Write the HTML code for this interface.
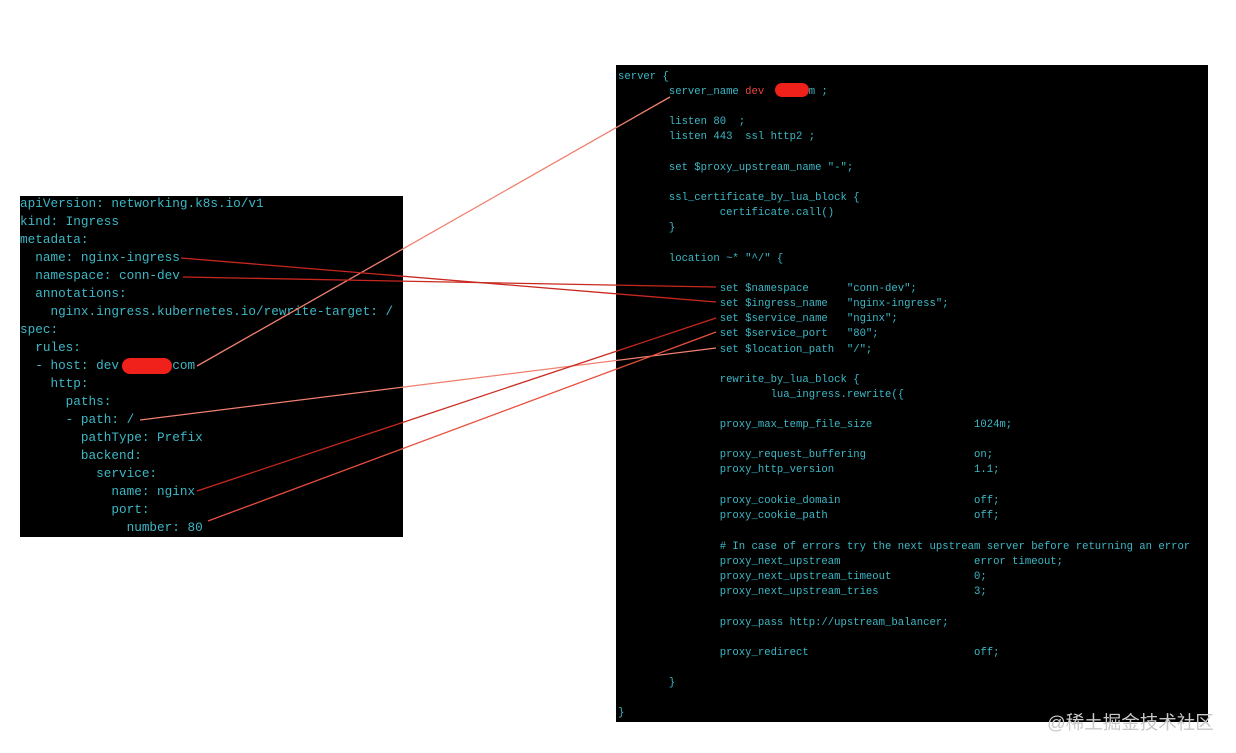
<!DOCTYPE html>
<html><head><meta charset="utf-8"><style>
body{margin:0;width:1236px;height:753px;background:#fff;position:relative;overflow:hidden}
.box{position:absolute;background:#000;color:#3db8c6;font-family:"Liberation Mono",monospace;white-space:pre}
#l{left:20px;top:196px;width:383px;height:341px;font-size:12.7px;line-height:18px}
#l div{position:absolute;left:0}
#r{left:616px;top:65px;width:592px;height:657px;font-size:10.6px;line-height:15.15px}
#r div{position:absolute;left:2px}
.red{color:#e8453c}
.blob{position:absolute;background:#f0201a;border-radius:8px}
svg{position:absolute;left:0;top:0}
.wm{position:absolute;left:1047px;top:709px;font:18.5px "Liberation Sans","Noto Sans CJK SC",sans-serif;color:#c8c8c8}
</style></head><body>
<div class="box" id="l">
<div style="top:-1px">apiVersion: networking.k8s.io/v1</div>
<div style="top:17px">kind: Ingress</div>
<div style="top:35px">metadata:</div>
<div style="top:53px">  name: nginx-ingress</div>
<div style="top:71px">  namespace: conn-dev</div>
<div style="top:89px">  annotations:</div>
<div style="top:107px">    nginx.ingress.kubernetes.io/rewrite-target: /</div>
<div style="top:125px">spec:</div>
<div style="top:143px">  rules:</div>
<div style="top:161px">  - host: dev       com</div>
<div style="top:179px">    http:</div>
<div style="top:197px">      paths:</div>
<div style="top:215px">      - path: /</div>
<div style="top:233px">        pathType: Prefix</div>
<div style="top:251px">        backend:</div>
<div style="top:269px">          service:</div>
<div style="top:287px">            name: nginx</div>
<div style="top:305px">            port:</div>
<div style="top:323px">              number: 80</div>
</div>
<div class="blob" style="left:122px;top:358px;width:50px;height:16px"></div>
<div class="box" id="r">
<div style="top:5px">server {</div>
<div style="top:20px">        server_name <span class="red">dev</span>     com ;</div>
<div style="top:50px">        listen 80  ;</div>
<div style="top:65px">        listen 443  ssl http2 ;</div>
<div style="top:96px">        set $proxy_upstream_name "-";</div>
<div style="top:126px">        ssl_certificate_by_lua_block {</div>
<div style="top:141px">                certificate.call()</div>
<div style="top:156px">        }</div>
<div style="top:187px">        location ~* "^/" {</div>
<div style="top:217px">                set $namespace      "conn-dev";</div>
<div style="top:232px">                set $ingress_name   "nginx-ingress";</div>
<div style="top:247px">                set $service_name   "nginx";</div>
<div style="top:262px">                set $service_port   "80";</div>
<div style="top:278px">                set $location_path  "/";</div>
<div style="top:308px">                rewrite_by_lua_block {</div>
<div style="top:323px">                        lua_ingress.rewrite({</div>
<div style="top:353px">                proxy_max_temp_file_size                1024m;</div>
<div style="top:383px">                proxy_request_buffering                 on;</div>
<div style="top:398px">                proxy_http_version                      1.1;</div>
<div style="top:429px">                proxy_cookie_domain                     off;</div>
<div style="top:444px">                proxy_cookie_path                       off;</div>
<div style="top:475px">                # In case of errors try the next upstream server before returning an error</div>
<div style="top:490px">                proxy_next_upstream                     error timeout;</div>
<div style="top:505px">                proxy_next_upstream_timeout             0;</div>
<div style="top:520px">                proxy_next_upstream_tries               3;</div>
<div style="top:551px">                proxy_pass http://upstream_balancer;</div>
<div style="top:581px">                proxy_redirect                          off;</div>
<div style="top:611px">        }</div>
<div style="top:641px">}</div>
</div>
<div class="blob" style="left:775px;top:83px;width:34px;height:14px"></div>
<svg width="1236" height="753">
<g fill="none" stroke-width="1.3">
<line x1="197" y1="366" x2="670" y2="97" stroke="#f0806e"/>
<line x1="181" y1="258" x2="716" y2="302" stroke="#c8281e"/>
<line x1="183" y1="277" x2="716" y2="287" stroke="#c8281e"/>
<line x1="140" y1="420" x2="716" y2="348" stroke="#f0806e"/>
<line x1="197" y1="491" x2="716" y2="318" stroke="#c8281e"/>
<line x1="208" y1="521" x2="716" y2="332" stroke="#e8503e"/>
</g></svg>
<div class="wm">@稀土掘金技术社区</div>
</body></html>
